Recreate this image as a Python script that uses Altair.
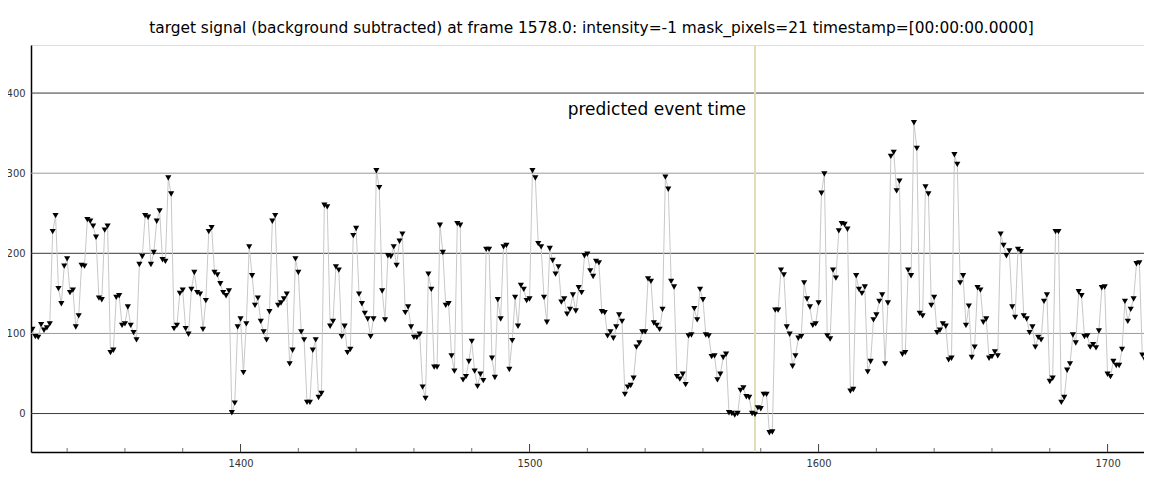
import altair as alt
import pandas as pd

title_text = ("target signal (background subtracted) at frame 1578.0: "
              "intensity=-1 mask_pixels=21 timestamp=[00:00:00.0000]")
event_label = "predicted event time"
event_frame = 1578
first_frame = 1328

sig_1328 = [105, 96, 95, 111, 104, 107, 112, 227, 247, 156, 137, 184, 193, 151, 154, 108, 122, 185, 184, 242,
            240, 234, 220, 144, 142, 229, 234, 76, 79, 145, 147, 110, 112, 133, 110, 101, 92, 186, 196]
sig_1367 = [247, 245, 186, 201, 240, 253, 192, 190, 294, 274, 106, 110, 150, 154, 106, 99, 155, 176, 151, 149,
            105, 141, 227, 232, 176, 173, 162, 151, 147, 153, 1, 13, 108, 118, 51, 112, 208, 172, 135]
sig_1406 = [144, 115, 102, 92, 127, 240, 247, 135, 138, 143, 149, 62, 79, 193, 176, 102, 92, 14, 14, 79,
            92, 20, 25, 260, 258, 109, 115, 183, 179, 96, 109, 76, 80, 222, 231, 149, 137, 125]
sig_1444 = [118, 96, 118, 303, 282, 153, 117, 197, 196, 208, 185, 215, 224, 126, 133, 108, 95, 95, 99, 33,
            19, 174, 155, 58, 58, 235, 201, 135, 137, 72, 53, 237, 235, 42, 46, 65, 90, 53, 34]
sig_1483 = [49, 41, 205, 205, 69, 45, 142, 118, 208, 210, 55, 91, 145, 109, 160, 155, 141, 143, 303, 294,
            212, 208, 145, 114, 206, 191, 174, 183, 139, 143, 124, 130, 148, 128, 157, 151, 197, 199, 178]
sig_1522 = [171, 190, 188, 127, 126, 97, 102, 94, 108, 123, 115, 24, 33, 35, 44, 83, 88, 102, 102, 168,
            165, 113, 110, 105, 130, 295, 280, 165, 158, 46, 43, 49, 36, 97, 98, 131, 117, 155]
sig_1560 = [142, 98, 97, 71, 72, 42, 49, 70, 74, 1, 0, -2, 0, 29, 32, 21, 20, 0, -1, 7,
            6, 24, 24, -24, -23, 129, 129, 179, 173, 108, 99, 59, 72, 94, 96, 163, 143, 133, 110, 112]
sig_1600 = [138, 275, 299, 97, 93, 179, 169, 228, 237, 236, 230, 28, 30, 172, 155, 150, 158, 52, 65, 117,
            123, 140, 148, 62, 138, 321, 326, 278, 290, 74, 76, 179, 172, 363, 331, 125, 122, 283]
sig_1638 = [274, 135, 145, 101, 104, 112, 109, 67, 69, 323, 311, 163, 172, 110, 134, 70, 83, 157, 154, 114,
            118, 69, 71, 77, 72, 224, 210, 197, 203, 133, 120, 205, 202, 122, 118, 101, 108, 83]
sig_1676 = [95, 92, 140, 148, 40, 44, 227, 227, 14, 20, 54, 62, 98, 88, 152, 147, 96, 97, 83, 86,
            82, 103, 157, 158, 49, 46, 65, 60, 60, 80, 140, 115, 130, 143, 187, 188, 73, 67, 57, 57, 130]

signal = sig_1328 + sig_1367 + sig_1406 + sig_1444 + sig_1483 + sig_1522 + sig_1560 + sig_1600 + sig_1638 + sig_1676
frames = list(range(first_frame, first_frame + len(signal)))

x_domain = [1327.5, 1712.6]
y_domain = [-48, 460]
y_label_values = [0, 100, 200, 300, 400]
x_label_values = [1400, 1500, 1600, 1700]
grid_dark = [0, 200, 400]
grid_light = [100, 300]
minor_tick_frames = [f for f in range(1340, 1713, 20) if f % 100 != 0]
major_tick_frames = [1400, 1500, 1600, 1700]

W, H = 1113, 407
FONT_AX = "Liberation Sans Narrow, DejaVu Sans Condensed, Liberation Sans"

xs = alt.Scale(domain=x_domain, nice=False, zero=False)
ys = alt.Scale(domain=y_domain, nice=False, zero=False)
x_axis = alt.Axis(values=x_label_values, ticks=False, grid=False, domainColor="#000000", domainWidth=1.5,
                  labelFont=FONT_AX, labelFontSize=11, labelColor="#333333", labelPadding=5, title=None,
                  format="d", labelFlush=False)
y_axis = alt.Axis(values=y_label_values, ticks=False, grid=False, domainColor="#000000", domainWidth=1.5,
                  labelFont=FONT_AX, labelFontSize=11, labelColor="#333333", labelPadding=6, title=None,
                  format="d")


def X():
    return alt.X("frame:Q", scale=xs, axis=x_axis)


def Y():
    return alt.Y("value:Q", scale=ys, axis=y_axis)


df = pd.DataFrame({"frame": frames, "value": signal})
grid_df = pd.DataFrame({"value": grid_dark + grid_light,
                        "col": ["#3a3a3a"] * len(grid_dark) + ["#9a9a9a"] * len(grid_light)})
event_df = pd.DataFrame({"frame": [event_frame], "label": [event_label]})
minor_df = pd.DataFrame({"frame": minor_tick_frames})
major_df = pd.DataFrame({"frame": major_tick_frames})

grid = alt.Chart(grid_df).mark_rule(strokeWidth=1).encode(
    y=Y(), color=alt.Color("col:N", scale=None))
event = alt.Chart(event_df).mark_rule(color="#dedeb8", strokeWidth=2).encode(x=X())
event_text = alt.Chart(event_df).mark_text(
    align="right", baseline="middle", dx=-9, fontSize=17, font="DejaVu Sans", color="#000000"
).encode(x=X(), y=alt.value(65), text="label:N")
line = alt.Chart(df).mark_line(color="#c8c8c8", strokeWidth=1, clip=True).encode(x=X(), y=Y())
pts = alt.Chart(df).mark_point(shape="triangle-down", filled=True, size=38, color="#000000",
                               opacity=1, clip=True).encode(x=X(), y=Y())
minor_ticks = alt.Chart(minor_df).mark_rule(color="#707070", strokeWidth=1).encode(
    x=X(), y=alt.value(H), y2=alt.value(H - 4))
major_ticks = alt.Chart(major_df).mark_rule(color="#404040", strokeWidth=1).encode(
    x=X(), y=alt.value(H), y2=alt.value(H - 8))

chart = alt.layer(grid, event, line, pts, event_text, minor_ticks, major_ticks).properties(
    width=W, height=H,
    title=alt.TitleParams(title_text, font="DejaVu Sans", fontSize=15.4, fontWeight="normal",
                          color="#000000", anchor="middle", offset=8, dx=4),
    autosize=alt.AutoSizeParams(type="none"),
    padding={"left": 23, "top": 37, "right": 0, "bottom": 21},
).configure_view(stroke=None).configure(background="#ffffff")

chart.save("out.html", embed_options={"renderer": "svg", "actions": False})
